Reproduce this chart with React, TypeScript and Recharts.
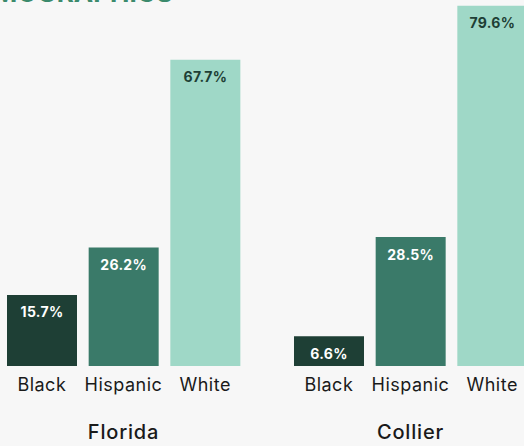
import React from 'react';
import { BarChart, Bar, XAxis, YAxis, Cell, LabelList, Label } from 'recharts';

const categories = ['Black', 'Hispanic', 'White'];
const floridaValues = [15.7, 26.2, 67.7];
const collierValues = [6.6, 28.5, 79.6];
const regions = ['Florida', 'Collier'];

const barColors = ['#1e3f35', '#3a7a69', '#9fd8c7'];
const labelColors = ['#ffffff', '#ffffff', '#1e3f35'];
const font = 'Inter, "Open Sans", sans-serif';

const BarLabel = (props: any) => {
  const { x, y, width, value, index } = props;
  return (
    <text
      x={x + width / 2}
      y={y + 17}
      textAnchor="middle"
      dominantBaseline="central"
      fontSize={14}
      fontWeight={700}
      fontFamily={font}
      letterSpacing={0.3}
      fill={labelColors[index]}
    >
      {`${value}%`}
    </text>
  );
};

const RegionChart = ({ values, region, left }: { values: number[]; region: string; left: number }) => {
  const data = categories.map((name, i) => ({ name, value: values[i] }));
  return (
    <div style={{ position: 'absolute', left, top: 0 }}>
      <BarChart width={245} height={446} data={data} margin={{ top: 4, right: 0, left: 0, bottom: 0 }} barSize={70}>
        <YAxis hide domain={[0, 80]} />
        <XAxis
          dataKey="name"
          tickLine={false}
          axisLine={false}
          height={80}
          tickMargin={6}
          tick={{ fontSize: 18, fill: '#1a1a1a', fontFamily: font, letterSpacing: 0.5 }}
        >
          <Label
            value={region}
            position="insideBottom"
            offset={7}
            style={{ fontSize: 20, fontWeight: 500, fill: '#1a1a1a', fontFamily: font, letterSpacing: 0.8 }}
          />
        </XAxis>
        <Bar dataKey="value" isAnimationActive={false}>
          {data.map((d, i) => (
            <Cell key={d.name} fill={barColors[i]} />
          ))}
          <LabelList dataKey="value" content={<BarLabel />} />
        </Bar>
      </BarChart>
    </div>
  );
};

export default function App() {
  return (
    <div
      style={{
        position: 'absolute',
        top: 0,
        left: 0,
        width: 524,
        height: 446,
        overflow: 'hidden',
        background: '#f7f7f7',
        fontFamily: font,
      }}
    >
      <div
        style={{
          position: 'absolute',
          right: 351,
          top: -23,
          fontSize: 26,
          fontWeight: 700,
          color: '#3b8a6c',
          whiteSpace: 'nowrap',
        }}
      >
        DEMOGRAPHICS
      </div>
      <RegionChart values={floridaValues} region={regions[0]} left={1} />
      <RegionChart values={collierValues} region={regions[1]} left={288} />
    </div>
  );
}
